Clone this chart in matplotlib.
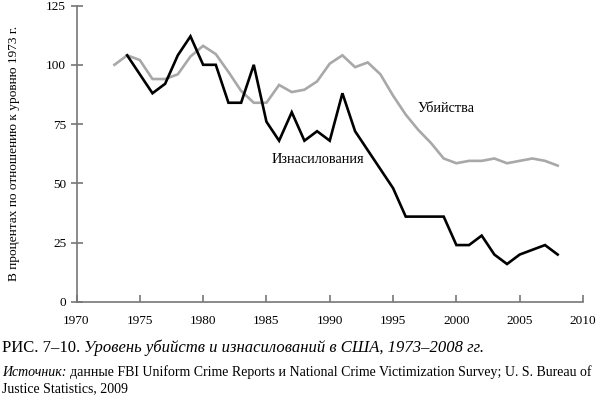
import matplotlib.pyplot as plt

plt.rcParams['font.family'] = ['Liberation Serif', 'DejaVu Serif']

# годы и значения (в % к уровню 1973 г.)
murder_years = list(range(1973, 2009))
murder = [100, 104, 102, 94, 94, 96, 103.5, 108, 104.5, 97, 89, 84, 84, 91.5,
          88.5, 89.5, 93, 100.5, 104, 99, 101, 96, 87, 79, 72.5, 67, 60.5,
          58.5, 59.5, 59.5, 60.5, 58.5, 59.5, 60.5, 59.5, 57.5]
rape_years = list(range(1974, 2009))
rape = [104, 96, 88, 92, 104, 112, 100, 100, 84, 84, 100, 76, 68,
        80, 68, 72, 68, 88, 72, 64, 56, 48, 36, 36, 36, 36,
        24, 24, 28, 20, 16, 20, 22, 24, 20]
x_ticks = [1970, 1975, 1980, 1985, 1990, 1995, 2000, 2005, 2010]
y_ticks = [0, 25, 50, 75, 100, 125]

fig = plt.figure(figsize=(6.01, 3.96), dpi=100)
ax = fig.add_axes([76.5 / 601, 1 - 302 / 396, (583 - 76.5) / 601, (302 - 5.5) / 396])

ax.plot(murder_years, murder, color='#a8a8a8', lw=1.9, solid_joinstyle='miter')
ax.plot(rape_years, rape, color='black', lw=1.9, solid_joinstyle='miter')

ax.set_xlim(1970, 2010)
ax.set_ylim(0, 125)
ax.set_xticks(x_ticks)
ax.set_yticks(y_ticks)

for s in ['top', 'right']:
    ax.spines[s].set_visible(False)
for s in ['left', 'bottom']:
    ax.spines[s].set_color('#777777')
    ax.spines[s].set_linewidth(1.2)

ax.tick_params(axis='x', direction='in', length=5, width=1.2, color='#777777',
               labelsize=9.5, pad=9)
ax.tick_params(axis='y', direction='inout', length=9, width=1.2, color='#777777',
               labelsize=9.5, pad=3)

ax.set_ylabel('В процентах по отношению к уровню 1973 г.', fontsize=9.6)
ax.yaxis.set_label_coords(-56 / 506.5, 0.5)

ax.text(1996.9, 81.5, 'Убийства', fontsize=10.3, ha='left', va='center')
ax.text(1985.4, 60, 'Изнасилования', fontsize=10.3, ha='left', va='center')

# подпись и источник
t1 = fig.text(2 / 601, 1 - 348 / 396, 'РИС. 7–10. ', fontsize=12, ha='left', va='center')
fig.canvas.draw()
r = fig.canvas.get_renderer()
x1 = t1.get_window_extent(r).x1 / fig.bbox.width
fig.text(x1, 1 - 348 / 396, 'Уровень убийств и изнасилований в США, 1973–2008 гг.',
         fontsize=12, style='italic', ha='left', va='center')

t2 = fig.text(2 / 601, 1 - 372 / 396, 'Источник: ', fontsize=10, style='italic',
              ha='left', va='center')
x2 = t2.get_window_extent(r).x1 / fig.bbox.width
fig.text(x2, 1 - 372 / 396,
         'данные FBI Uniform Crime Reports и National Crime Victimization Survey; U. S. Bureau of',
         fontsize=10, ha='left', va='center')
fig.text(2 / 601, 1 - 389 / 396, 'Justice Statistics, 2009', fontsize=10,
         ha='left', va='center')

fig.savefig('out.png', dpi=100)
